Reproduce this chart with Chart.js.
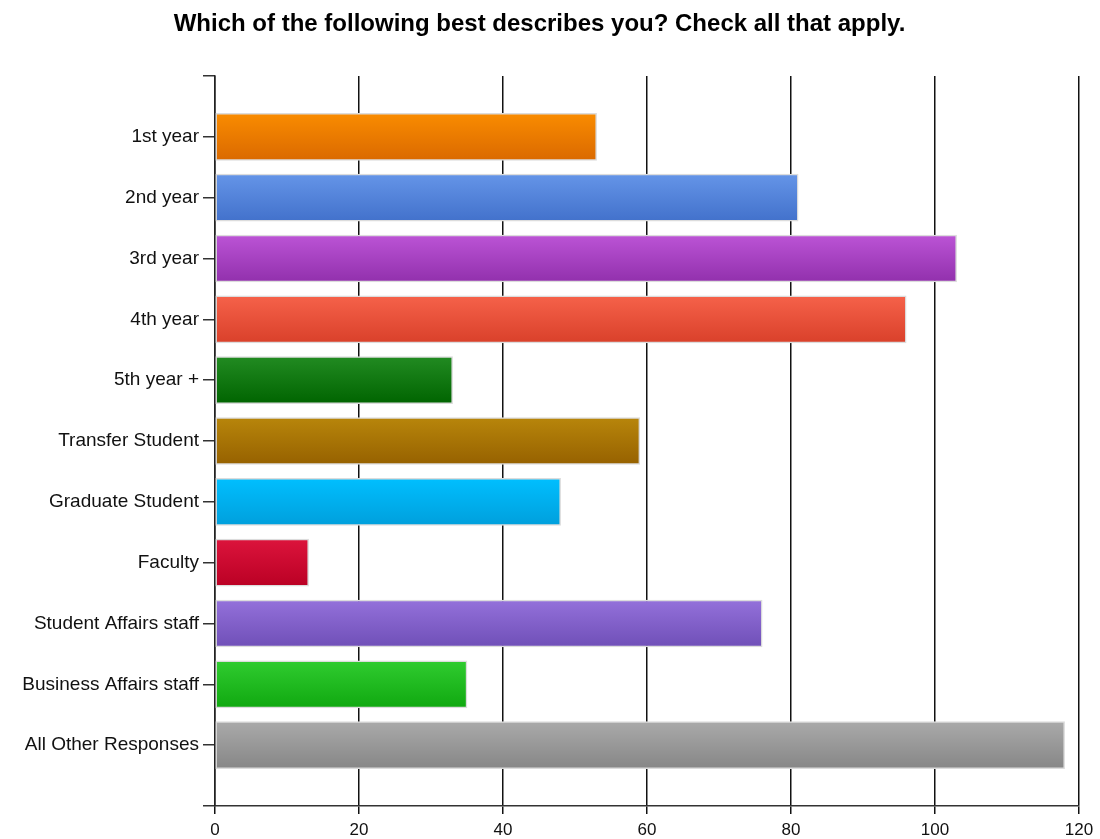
<!DOCTYPE html>
<html>
<head>
<meta charset="utf-8">
<title>Which of the following best describes you?</title>
<script src="https://cdn.jsdelivr.net/npm/chart.js@4/dist/chart.umd.min.js"></script>
<style>
  html, body { margin: 0; padding: 0; background: #ffffff; }
  #wrap { width: 1100px; height: 839px; }
</style>
</head>
<body>
<div id="wrap"><canvas id="chart" width="1100" height="839"></canvas></div>
<script>
// Survey responses per group
const categories = [
  '1st year', '2nd year', '3rd year', '4th year', '5th year +',
  'Transfer Student', 'Graduate Student', 'Faculty',
  'Student Affairs staff', 'Business Affairs staff', 'All Other Responses'
];
const values = [53, 81, 103, 96, 33, 59, 48, 13, 76, 35, 118];
const xTicks = [0, 20, 40, 60, 80, 100, 120];

// Gradient stops per bar (top shade, bottom shade)
const topColors = ['#FA8C00', '#6595E8', '#BC54D6', '#F6624A', '#228B22', '#B8860B',
                   '#00BFFF', '#DC143C', '#9471DB', '#30CC30', '#AAAAAA'];
const bottomColors = ['#DA6900', '#4271CB', '#9130AC', '#D9402A', '#006400', '#966100',
                      '#009FDC', '#BA0024', '#6F4FB7', '#10A810', '#868686'];

// Blank slots above and below keep a half-gap of empty axis at each end
const labels = [''].concat(categories, ['']);
const data = [null].concat(values, [null]);
const tops = [null].concat(topColors, [null]);
const bottoms = [null].concat(bottomColors, [null]);

const FONT = "'Liberation Sans', Arial, sans-serif";

function barFill(ctx) {
  const chart = ctx.chart;
  const i = ctx.dataIndex;
  const yScale = chart.scales && chart.scales.y;
  if (!chart.chartArea || !yScale || tops[i] == null) return tops[i] || '#999';
  const c = yScale.getPixelForValue(i);
  const g = chart.ctx.createLinearGradient(0, c - 24, 0, c + 24);
  g.addColorStop(0, tops[i]);
  g.addColorStop(1, bottoms[i]);
  return g;
}

new Chart(document.getElementById('chart'), {
  type: 'bar',
  data: {
    labels: labels,
    datasets: [{
      data: data,
      backgroundColor: barFill,
      borderColor: '#DCDCDC',
      borderWidth: 1.5,
      borderSkipped: false,
      barThickness: 47
    }]
  },
  options: {
    indexAxis: 'y',
    responsive: false,
    animation: false,
    layout: { padding: { left: 0, right: 21, top: 0, bottom: 0 } },
    plugins: {
      legend: { display: false },
      tooltip: { enabled: false },
      title: {
        display: true,
        text: 'Which of the following best describes you? Check all that apply.',
        color: '#000000',
        font: { family: FONT, size: 24, weight: 'bold' },
        padding: { top: 10, bottom: 37.2 }
      }
    },
    scales: {
      x: {
        type: 'linear',
        min: 0,
        max: 120,
        afterBuildTicks: (scale) => { scale.ticks = xTicks.map(v => ({ value: v })); },
        afterFit: (scale) => { scale.height = 33; },
        grid: {
          color: '#111111',
          lineWidth: 1.5,
          drawOnChartArea: true,
          drawTicks: true,
          tickLength: 8
        },
        border: { display: true, color: '#333333', width: 1.5 },
        ticks: {
          color: '#111111',
          padding: 6,
          font: { family: FONT, size: 17 }
        }
      },
      y: {
        type: 'category',
        offset: false,
        afterFit: (scale) => { scale.width = 215; },
        grid: {
          offset: false,
          color: '#333333',
          lineWidth: 1.5,
          drawOnChartArea: false,
          drawTicks: true,
          tickLength: 12
        },
        border: { display: true, color: '#222222', width: 1.5 },
        ticks: {
          color: '#111111',
          padding: 4,
          autoSkip: false,
          font: { family: FONT, size: 19 }
        }
      }
    }
  }
});
</script>
</body>
</html>
